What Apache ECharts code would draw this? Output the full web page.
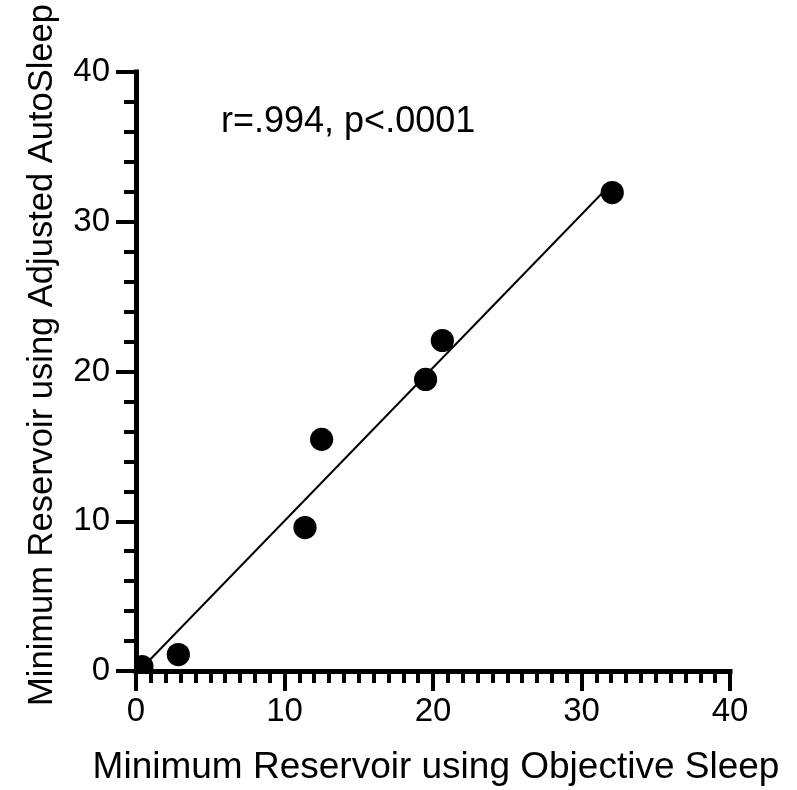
<!DOCTYPE html>
<html>
<head>
<meta charset="utf-8">
<script src="https://cdn.jsdelivr.net/npm/echarts@6/dist/echarts.min.js"></script>
<style>
  html, body { margin: 0; padding: 0; background: #fff; }
  #chart { width: 797px; height: 790px; }
</style>
</head>
<body>
<div id="chart"></div>
<script>
// Minimum reservoir per participant: objective sleep (x) vs adjusted AutoSleep (y)
const objectiveSleep    = [0.4, 2.85, 11.38, 12.5, 19.5, 20.63, 32.07];
const adjustedAutoSleep = [0.3, 1.1, 9.58, 15.47, 19.47, 22.07, 31.95];

// Endpoints of the fitted regression line
const fitLine = [[0.4, 0.2], [32.07, 32.6]];

// Axis ticks and text
const xTicks = [0, 10, 20, 30, 40];
const yTicks = [0, 10, 20, 30, 40];
const xTitle = 'Minimum Reservoir using Objective Sleep';
const yTitle = 'Minimum Reservoir using Adjusted AutoSleep';
const statsLabel = 'r=.994, p<.0001';

const FONT = '"Liberation Sans", Arial, Helvetica, sans-serif';
const points = objectiveSleep.map((x, i) => [x, adjustedAutoSleep[i]]);

function axisCommon(ticks, minorSplit, margin) {
  return {
    type: 'value',
    min: ticks[0],
    max: ticks[ticks.length - 1],
    interval: ticks[1] - ticks[0],
    axisLine: { show: true, onZero: false, lineStyle: { color: '#000', width: 5, cap: 'square' } },
    axisTick: { show: true, inside: false, length: 20, lineStyle: { color: '#000', width: 4 } },
    minorTick: { show: true, splitNumber: minorSplit, length: 12, lineStyle: { color: '#000', width: 4 } },
    splitLine: { show: false },
    minorSplitLine: { show: false },
    axisLabel: {
      color: '#000', fontSize: 33, fontFamily: FONT, margin: margin,
      showMinLabel: true, showMaxLabel: true, hideOverlap: false
    }
  };
}

const chart = echarts.init(document.getElementById('chart'), null, { renderer: 'canvas' });
chart.setOption({
  animation: false,
  backgroundColor: '#fff',
  grid: { left: 136, right: 67, top: 72, bottom: 119, containLabel: false, outerBoundsMode: 'none' },
  xAxis: axisCommon(xTicks, 10, 24),
  yAxis: axisCommon(yTicks, 5, 26),
  series: [
    {
      type: 'line',
      data: fitLine,
      symbol: 'none',
      lineStyle: { color: '#000', width: 2 },
      z: 2
    },
    {
      type: 'custom',
      data: points,
      clip: true,
      z: 3,
      renderItem: function (params, api) {
        const p = api.coord([api.value(0), api.value(1)]);
        return { type: 'circle', shape: { cx: p[0], cy: p[1], r: 11.6 }, style: { fill: '#000' } };
      }
    }
  ],
  graphic: [
    {
      type: 'text', x: 221, y: 122,
      style: { text: statsLabel, fill: '#000', font: '36px ' + FONT, align: 'left', verticalAlign: 'middle' }
    },
    {
      type: 'text', x: 436, y: 768,
      style: { text: xTitle, fill: '#000', font: '37px ' + FONT, align: 'center', verticalAlign: 'middle' }
    },
    {
      type: 'text', x: 42, y: 355, rotation: Math.PI / 2,
      style: { text: yTitle, fill: '#000', font: '34.5px ' + FONT, align: 'center', verticalAlign: 'middle' }
    }
  ]
});
</script>
</body>
</html>
